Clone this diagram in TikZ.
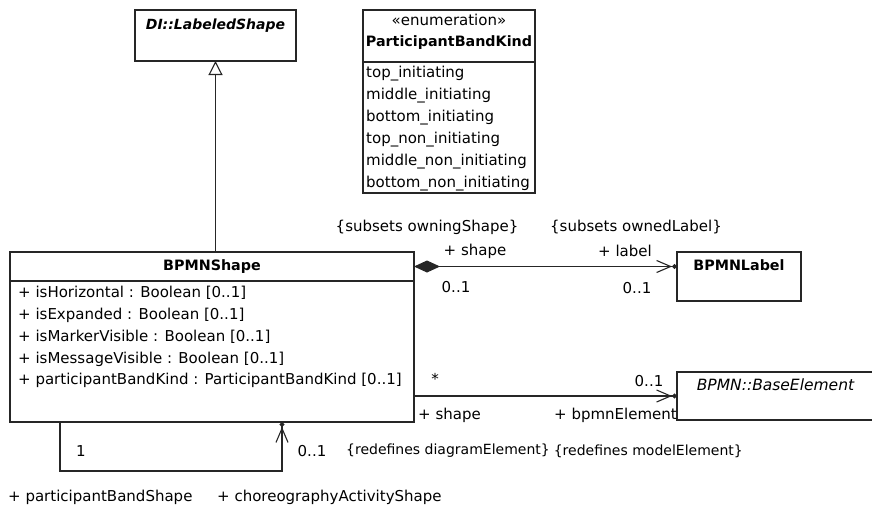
\documentclass[tikz,border=0pt]{standalone}
\usepackage{fontspec}
\setmainfont{DejaVu Sans}
\usetikzlibrary{positioning,arrows.meta,calc}
\tikzset{
umlline/.style={draw=black!85,line width=1.1pt},
classbox/.style={umlline,fill=white,rectangle,inner sep=0pt,outer sep=0pt,anchor=north west},
classname/.style={font=\fontsize{14.3}{17}\selectfont\bfseries},
abstractname/.style={font=\fontsize{14}{17}\selectfont\bfseries\itshape,inner sep=0pt},
plainname/.style={font=\fontsize{15.5}{17}\selectfont\itshape,inner sep=0pt},
attrtext/.style={font=\fontsize{15}{21.8}\selectfont,align=left,anchor=north west,inner sep=0pt},
endlabel/.style={font=\fontsize{15}{17}\selectfont,inner sep=0pt},
assoc/.style={umlline,-{Straight Barb[length=14pt,width=12pt]Circle[length=5pt,width=5pt]}},
compose/.style={umlline,{Diamond[length=26pt,width=12pt]}-{Straight Barb[length=14pt,width=12pt]Circle[length=5pt,width=5pt]}},
generalise/.style={umlline,-{Triangle[open,length=14pt,width=14pt,fill=white]}}
}

\begin{document}
\begin{tikzpicture}[x=1pt,y=-1pt]
\useasboundingbox (0,0) rectangle (872,511);

% classes
\node[classbox,minimum width=161pt,minimum height=51pt,
  label={[abstractname,anchor=north,yshift=-9pt]north:DI::LabeledShape}] (labeled) at (135,10) {};

\node[classbox,minimum width=172pt,minimum height=52pt,
  label={[font=\fontsize{15}{21}\selectfont,align=center,inner sep=0pt,anchor=north,yshift=-4pt]north:«enumeration»\\{\fontsize{14.3}{21}\selectfont\bfseries ParticipantBandKind}}] (enumName) at (363,10) {};
\node[classbox,minimum width=172pt,minimum height=131pt,below=0pt of enumName] (enumLit) {};
\node[attrtext,font=\fontsize{15}{22}\selectfont] (enumText) at ([xshift=3pt,yshift=-4pt]enumLit.north west)
  {top\_initiating\\middle\_initiating\\bottom\_initiating\\top\_non\_initiating\\middle\_non\_initiating\\bottom\_non\_initiating};

\node[classbox,classname,minimum width=404pt,minimum height=29pt] (shapeName) at (10,252) {BPMNShape};
\node[classbox,minimum width=404pt,minimum height=141pt,below=0pt of shapeName] (shapeAttr) {};
\node[attrtext] (shapeText) at ([xshift=8pt,yshift=-5pt]shapeAttr.north west)
  {+ isHorizontal : Boolean [0..1]\\+ isExpanded : Boolean [0..1]\\+ isMarkerVisible : Boolean [0..1]\\+ isMessageVisible : Boolean [0..1]\\+ participantBandKind : ParticipantBandKind [0..1]};

\node[classbox,minimum width=124pt,minimum height=49pt,
  label={[classname,inner sep=0pt,anchor=north,yshift=-7pt]north:BPMNLabel}] (blabel) at (677,252) {};

\node[classbox,minimum width=197pt,minimum height=48pt,
  label={[plainname,anchor=north,yshift=-7pt]north:BPMN::BaseElement}] (base) at (677,372) {};

% connectors
\draw[generalise] (labeled.south |- shapeName.north) -- (labeled.south);
\draw[compose] (shapeName.east) -- (shapeName.east -| blabel.west);
\draw[assoc] (base.west -| shapeAttr.east) -- (base.west);
\coordinate (loopStart) at ([xshift=50pt]shapeAttr.south west);
\coordinate (loopEnd) at ([xshift=272pt]shapeAttr.south west);
\draw[assoc] (loopStart) -- ++(0,49) -| (loopEnd);

% association ends
\node[endlabel] (ownSub) at (427,227) {\{subsets owningShape\}};
\node[endlabel] (lblSub) at (636,227) {\{subsets ownedLabel\}};
\node[endlabel] (ownRole) at (475,251) {+ shape};
\node[endlabel] (lblRole) at (625,251) {+ label};
\node[endlabel] (ownMult) at (456,287) {0..1};
\node[endlabel] (lblMult) at (637,288) {0..1};
\node[endlabel] (shpMult) at (435,379) {*};
\node[endlabel] (elMult) at (649,381) {0..1};
\node[endlabel,anchor=west] (shpRole) at (418,415) {+ shape};
\node[endlabel,anchor=east] (elRole) at (677,415) {+ bpmnElement};
\node[endlabel] (loopOne) at (81,451) {1};
\node[endlabel] (loopMult) at (312,451) {0..1};
\node[endlabel,anchor=west,font=\fontsize{14}{17}\selectfont] (diaRedef) at (346,451) {\{redefines diagramElement\}};
\node[endlabel,anchor=east,font=\fontsize{14}{17}\selectfont] (modRedef) at (743,451) {\{redefines modelElement\}};
\node[endlabel,anchor=west] (bandRole) at (8,497) {+ participantBandShape};
\node[endlabel,anchor=west] (choreoRole) at (217,497) {+ choreographyActivityShape};
\end{tikzpicture}
\end{document}
